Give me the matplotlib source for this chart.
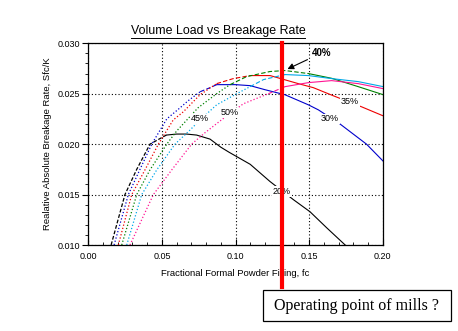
import numpy as np
import matplotlib
matplotlib.use("Agg")
import matplotlib.pyplot as plt
from matplotlib.lines import Line2D
from matplotlib.ticker import MultipleLocator

plt.rcParams['font.family'] = ['Liberation Sans', 'DejaVu Sans']

# data (fc, relative breakage rate)
fc_20 = [0.0155, 0.0249, 0.0329, 0.0419, 0.0530, 0.0600, 0.0668, 0.0736, 0.0827, 0.0900, 0.0956, 0.1100, 0.1234, 0.1393, 0.1506, 0.1620, 0.1745]
rate_20 = [0.0100, 0.0150, 0.0175, 0.0200, 0.0209, 0.0210, 0.0210, 0.0209, 0.0205, 0.0197, 0.0192, 0.0180, 0.0163, 0.0145, 0.0133, 0.0117, 0.0100]

fc_30 = [0.0175, 0.0272, 0.0351, 0.0431, 0.0533, 0.0623, 0.0678, 0.0760, 0.0827, 0.0872, 0.1000, 0.1100, 0.1200, 0.1336, 0.1495, 0.1563, 0.1710, 0.1890, 0.2004]
rate_30 = [0.0100, 0.0150, 0.0175, 0.0200, 0.0225, 0.0236, 0.0243, 0.0252, 0.0256, 0.0259, 0.0259, 0.0258, 0.0254, 0.0249, 0.0239, 0.0234, 0.0220, 0.0200, 0.0183]

fc_35 = [0.0204, 0.0295, 0.0385, 0.0476, 0.0577, 0.0645, 0.0759, 0.0872, 0.0985, 0.1100, 0.1235, 0.1427, 0.1529, 0.1664, 0.1857, 0.2004]
rate_35 = [0.0100, 0.0150, 0.01745, 0.0200, 0.0224, 0.0232, 0.0249, 0.0260, 0.0265, 0.0268, 0.0268, 0.0260, 0.0256, 0.0248, 0.0237, 0.0228]

fc_40 = [0.0227, 0.0329, 0.0419, 0.0533, 0.0600, 0.0657, 0.0745, 0.0872, 0.0963, 0.1076, 0.1234, 0.1336, 0.1495, 0.1653, 0.1834, 0.2004]
rate_40 = [0.0100, 0.0150, 0.01745, 0.0200, 0.0213, 0.0222, 0.0236, 0.0250, 0.0259, 0.0267, 0.0272, 0.0273, 0.0270, 0.02653, 0.0257, 0.0249]

fc_45 = [0.0261, 0.0363, 0.0465, 0.0589, 0.0691, 0.0759, 0.0872, 0.1008, 0.1099, 0.1190, 0.1336, 0.1495, 0.1653, 0.1834, 0.2004]
rate_45 = [0.0100, 0.0150, 0.01745, 0.0200, 0.0214, 0.0224, 0.0239, 0.0250, 0.0257, 0.0264, 0.0269, 0.0268, 0.0265, 0.0262, 0.0257]

fc_50 = [0.0283, 0.0442, 0.0567, 0.0702, 0.0790, 0.0904, 0.1053, 0.1223, 0.1336, 0.1495, 0.1653, 0.1834, 0.2004]
rate_50 = [0.0100, 0.0150, 0.01745, 0.0200, 0.0211, 0.0224, 0.0240, 0.0250, 0.0257, 0.0261, 0.0263, 0.0260, 0.0255]

operating_fc = 0.1318

# colour, and index where the dotted part ends / where the solid part starts
curves = [
    (fc_20, rate_20, 'black', 4, 4, (0, (3, 1.5))),
    (fc_30, rate_30, '#0000cc', 7, 9, ':'),
    (fc_35, rate_35, '#ee0000', 7, 9, ':'),
    (fc_40, rate_40, '#008000', 8, 12, ':'),
    (fc_45, rate_45, '#00a8e8', 8, 10, ':'),
    (fc_50, rate_50, '#ff1493', 7, 8, ':'),
]

fig = plt.figure(figsize=(4.58, 3.31), dpi=100)
ax = fig.add_axes([88.3 / 458, 1 - 245 / 331, (382.7 - 88.3) / 458, (245 - 43.3) / 331])

for fc, rate, col, i_dot, i_sol, first_ls in curves:
    ax.plot(fc[:i_dot + 1], rate[:i_dot + 1], color=col, lw=0.9, ls=first_ls, zorder=2)
    if i_sol > i_dot:
        ax.plot(fc[i_dot:i_sol + 1], rate[i_dot:i_sol + 1], color=col, lw=0.8, ls=(0, (4, 2)), zorder=2)
    ax.plot(fc[i_sol:], rate[i_sol:], color=col, lw=0.8, zorder=2)

ax.set_xlim(0, 0.20)
ax.set_ylim(0.010, 0.030)
ax.xaxis.set_major_locator(MultipleLocator(0.05))
ax.xaxis.set_minor_locator(MultipleLocator(0.01))
ax.yaxis.set_major_locator(MultipleLocator(0.005))
ax.yaxis.set_minor_locator(MultipleLocator(0.001))
ax.xaxis.set_major_formatter(plt.FormatStrFormatter('%.2f'))
ax.yaxis.set_major_formatter(plt.FormatStrFormatter('%.3f'))
ax.tick_params(axis='x', which='both', direction='in', labelsize=6.5, pad=5)
ax.tick_params(axis='x', which='major', length=4)
ax.tick_params(axis='x', which='minor', length=2)
ax.tick_params(axis='y', which='both', direction='out', labelsize=6.5, pad=2)
ax.tick_params(axis='y', which='major', length=4)
ax.tick_params(axis='y', which='minor', length=2)
ax.grid(True, which='major', color='black', ls=(0, (1, 2)), lw=0.8)
for s in ax.spines.values():
    s.set_linewidth(0.9)

ax.set_xlabel('Fractional Formal Powder Filling, fc', fontsize=6.8, labelpad=6)
ax.set_ylabel('Realative Absolute Breakage Rate, Sfc/K', fontsize=6.8, labelpad=4)

lbl = dict(fontsize=6.5, ha='center', va='center', zorder=3,
           bbox=dict(facecolor='white', edgecolor='none', pad=0.5))
ax.text(0.1314, 0.0153, '20%', **lbl)
ax.text(0.1642, 0.0225, '30%', **lbl)
ax.text(0.1778, 0.0242, '35%', **lbl)
ax.text(0.0760, 0.0225, '45%', **lbl)
ax.text(0.0963, 0.0231, '50%', **lbl)
ax.text(0.1585, 0.0290, '40%', fontsize=7, weight='bold', ha='center', va='center')
ax.annotate('', xy=(0.1336, 0.02733), xytext=(0.1506, 0.0285),
            arrowprops=dict(arrowstyle='-|>', color='black', lw=0.8, mutation_scale=9))

# operating point line, runs past the axes down to the box
ax.plot([operating_fc, operating_fc], [1.0, -0.21], color='#ff0000', lw=3.0,
        transform=ax.get_xaxis_transform(), clip_on=False, zorder=5)

title = fig.text(218 / 458, 1 - 31 / 331, 'Volume Load vs Breakage Rate', fontsize=8.9,
                 ha='center', va='center')
fig.text(357 / 458, 1 - 305.5 / 331, 'Operating point of mills ?', family='Liberation Serif',
         fontsize=11.5, ha='center', va='center')
fig.add_artist(plt.Rectangle((263.3 / 458, 1 - 320.7 / 331), (450.7 - 263.3) / 458, 30.7 / 331,
                             fill=False, edgecolor='black', lw=0.9, transform=fig.transFigure))

fig.canvas.draw()
bb = title.get_window_extent(fig.canvas.get_renderer())
uy = (bb.y0 - 0.5) / fig.bbox.height
fig.add_artist(Line2D([bb.x0 / fig.bbox.width, bb.x1 / fig.bbox.width], [uy, uy],
                      color='black', lw=0.7, transform=fig.transFigure))

fig.savefig('out.png', dpi=100)
